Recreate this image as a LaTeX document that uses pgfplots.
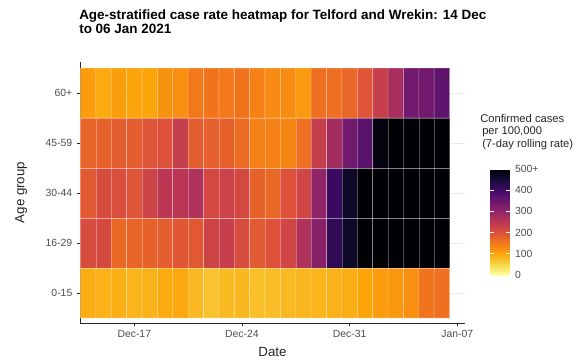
\documentclass[border=0pt]{standalone}
\usepackage{fontspec}
\setmainfont{Liberation Sans}
\usepackage{pgfplots}
\pgfplotsset{compat=1.18}
\definecolor{tickgray}{HTML}{4D4D4D}
\definecolor{gridgray}{HTML}{EBEBEB}
\begin{document}
\begin{tikzpicture}
\path[use as bounding box] (0,0) rectangle (439.5pt,271.5pt);
\begin{axis}[
  at={(60pt,29.25pt)}, anchor=south west,
  scale only axis, width=288.75pt, height=195.75pt,
  xmin=-0.53, xmax=24.5, ymin=0.4, ymax=5.62,
  axis x line*=bottom, axis y line*=left,
  axis line style={-, black!85, line width=0.6pt},
  xtick={3,10,17,24}, xticklabels={Dec-17,Dec-24,Dec-31,Jan-07},
  ytick={1,2,3,4,5}, yticklabels={0-15,16-29,30-44,45-59,60+},
  tick align=outside, major tick length=2.25pt,
  tick style={black!85, line width=0.6pt},
  ticklabel style={font=\fontsize{7.8}{9}\selectfont, text=tickgray},
  ymajorgrids, grid style={gridgray, line width=0.6pt},
  xlabel={Date}, ylabel={Age group},
  label style={font=\fontsize{10}{12}\selectfont, text=black!85},
  xlabel style={at={(axis description cs:0.5,-0.13)}, anchor=base},
  ylabel style={at={(axis description cs:-0.153,0.5)}, anchor=center},
  colormap={infernorev}{rgb255(0cm)=(252,255,164) rgb255(1cm)=(246,215,70) rgb255(2cm)=(252,165,10) rgb255(3cm)=(243,120,25) rgb255(4cm)=(221,81,58) rgb255(5cm)=(188,55,84) rgb255(6cm)=(147,38,103) rgb255(7cm)=(106,23,110) rgb255(8cm)=(66,10,104) rgb255(9cm)=(22,11,57) rgb255(10cm)=(0,0,4)},
  point meta min=0, point meta max=500,
  colorbar,
  colorbar style={
    at={(parent axis.south east)}, anchor=south west,
    xshift=10.5pt, yshift=36pt,
    scale only axis, width=15pt, height=79.5pt,
    ytick={0,100,200,300,400,500}, yticklabels={0,100,200,300,400,500+},
    ytick pos=both, yticklabel pos=right,
    tick align=inside, major tick length=3pt,
    ytick style={draw=white, line width=0.5pt},
    axis line style={draw=none},
    yticklabel style={font=\fontsize{7.8}{9}\selectfont, text=tickgray},
  },
]
\addplot[matrix plot*, mesh/cols=24, point meta=explicit, shader=faceted, faceted color=white, draw opacity=0.3, line width=0.45pt] coordinates {
(0,1) [92] (1,1) [88] (2,1) [90] (3,1) [85] (4,1) [87] (5,1) [95] (6,1) [97] (7,1) [80] (8,1) [70] (9,1) [78] (10,1) [82] (11,1) [73] (12,1) [76] (13,1) [80] (14,1) [83] (15,1) [85] (16,1) [87] (17,1) [92] (18,1) [100] (19,1) [110] (20,1) [115] (21,1) [125] (22,1) [155] (23,1) [160]
(0,2) [210] (1,2) [213] (2,2) [170] (3,2) [175] (4,2) [178] (5,2) [183] (6,2) [192] (7,2) [190] (8,2) [225] (9,2) [235] (10,2) [210] (11,2) [188] (12,2) [200] (13,2) [222] (14,2) [265] (15,2) [315] (16,2) [420] (17,2) [465] (18,2) [500] (19,2) [500] (20,2) [500] (21,2) [500] (22,2) [500] (23,2) [500]
(0,3) [190] (1,3) [210] (2,3) [205] (3,3) [195] (4,3) [225] (5,3) [250] (6,3) [252] (7,3) [265] (8,3) [215] (9,3) [228] (10,3) [215] (11,3) [178] (12,3) [170] (13,3) [200] (14,3) [222] (15,3) [305] (16,3) [410] (17,3) [465] (18,3) [500] (19,3) [500] (20,3) [500] (21,3) [500] (22,3) [500] (23,3) [500]
(0,4) [175] (1,4) [178] (2,4) [185] (3,4) [183] (4,4) [195] (5,4) [200] (6,4) [235] (7,4) [185] (8,4) [180] (9,4) [178] (10,4) [165] (11,4) [140] (12,4) [140] (13,4) [135] (14,4) [162] (15,4) [235] (16,4) [280] (17,4) [340] (18,4) [370] (19,4) [490] (20,4) [500] (21,4) [500] (22,4) [500] (23,4) [500]
(0,5) [110] (1,5) [95] (2,5) [108] (3,5) [100] (4,5) [100] (5,5) [120] (6,5) [125] (7,5) [150] (8,5) [155] (9,5) [150] (10,5) [155] (11,5) [140] (12,5) [130] (13,5) [128] (14,5) [112] (15,5) [160] (16,5) [162] (17,5) [172] (18,5) [195] (19,5) [235] (20,5) [275] (21,5) [340] (22,5) [342] (23,5) [365]
};
\end{axis}
\node[anchor=base west, inner sep=0pt, font=\fontsize{10.1}{12}\selectfont\bfseries] at (59.25pt,257.25pt) {Age-stratified case rate heatmap for Telford and Wrekin: 14 Dec};
\node[anchor=base west, inner sep=0pt, font=\fontsize{10.1}{12}\selectfont\bfseries] at (59.25pt,246.75pt) {to 06 Jan 2021};
\node[anchor=base west, inner sep=0pt, font=\fontsize{8.4}{10}\selectfont, text=black!85] at (360pt,180pt) {Confirmed cases};
\node[anchor=base west, inner sep=0pt, font=\fontsize{8.4}{10}\selectfont, text=black!85] at (361.5pt,170.6pt) {per 100,000};
\node[anchor=base west, inner sep=0pt, font=\fontsize{8.4}{10}\selectfont, text=black!85] at (361.5pt,161.25pt) {(7-day rolling rate)};
\end{tikzpicture}
\end{document}
